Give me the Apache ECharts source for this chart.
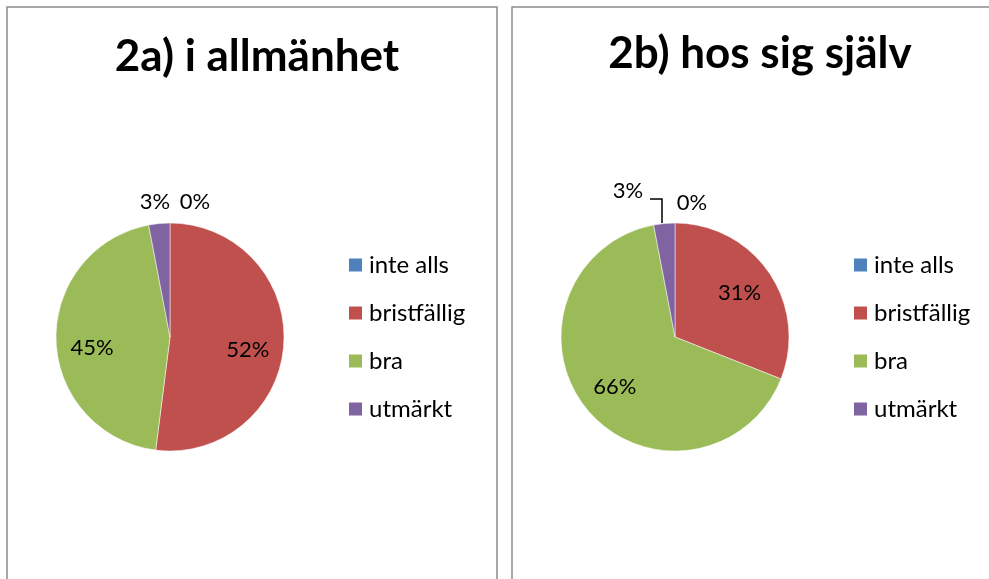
<!DOCTYPE html>
<html lang="sv">
<head>
    <meta charset="UTF-8">
    <title>2a / 2b</title>
    <script src="https://cdn.jsdelivr.net/npm/echarts@6/dist/echarts.min.js"></script>
    <style>
        html, body { margin: 0; padding: 0; background: #fff; }
        #main { width: 989px; height: 579px; }
    </style>
</head>
<body>
<div id="main"></div>
<script>
    // kategorier och värden (procent)
    var categories = ['inte alls', 'bristfällig', 'bra', 'utmärkt'];
    var allmanhet = [0, 52, 45, 3];
    var sigSjalv = [0, 31, 66, 3];
    var titles = ['2a) i allmänhet', '2b) hos sig själv'];
    var colors = ['#4F81BD', '#C0504D', '#9BBB59', '#8064A2'];

    var font = 'Lato';
    var R = 114;
    var centers = [[170, 337], [675, 337]];

    // placering av de små etiketterna ovanför pajen (relativt mitten)
    var smallLabelPos = [
        { 0: [25, -135], 3: [-15, -135] },
        { 0: [17, -134], 3: [-47, -146] }
    ];

    function buildData(values) {
        return categories.map(function (c, i) {
            var small = values[i] < 10;
            return {
                name: c,
                value: values[i],
                label: { position: small ? 'outside' : 'inside' },
                labelLine: { show: small }
            };
        });
    }

    function layoutFor(idx) {
        return function (p) {
            var c = centers[idx];
            var pos = smallLabelPos[idx][p.dataIndex];
            if (pos) {
                var res = { x: c[0] + pos[0], y: c[1] + pos[1], align: 'center', verticalAlign: 'middle' };
                if (idx === 1 && p.dataIndex === 3) {
                    // knäckt linje från lilla sektorn upp till etiketten
                    res.labelLinePoints = [[c[0] - 13, c[1] - R], [c[0] - 13, c[1] - 138], [c[0] - 25, c[1] - 138]];
                } else {
                    res.labelLinePoints = [[c[0], c[1]], [c[0], c[1]], [c[0], c[1]]];
                }
                return res;
            }
            // inre etiketter lite längre ut, som i Excel
            var lx = p.labelRect.x + p.labelRect.width / 2;
            var ly = p.labelRect.y + p.labelRect.height / 2;
            return {
                x: c[0] + (lx - c[0]) * 1.3,
                y: c[1] + (ly - c[1]) * 1.3 + (idx === 0 ? 8 : 0),
                align: 'center',
                verticalAlign: 'middle'
            };
        };
    }

    function pieSeries(idx, values) {
        return {
            type: 'pie',
            name: titles[idx],
            center: centers[idx],
            radius: R,
            startAngle: 90,
            clockwise: true,
            avoidLabelOverlap: false,
            label: {
                formatter: '{d}%',
                fontFamily: font,
                fontSize: 22,
                color: '#000'
            },
            labelLine: {
                length: 8,
                length2: 8,
                lineStyle: { color: '#000', width: 1.5 }
            },
            labelLayout: layoutFor(idx),
            itemStyle: { borderColor: '#fff', borderWidth: 0.5 },
            emphasis: { disabled: true },
            data: buildData(values)
        };
    }

    function legendFor(left) {
        return {
            orient: 'vertical',
            left: left,
            top: 253,
            padding: 0,
            icon: 'rect',
            itemWidth: 15,
            itemHeight: 15,
            itemGap: 24,
            selectedMode: false,
            data: categories,
            textStyle: { fontFamily: font, fontSize: 24, color: '#000', lineHeight: 24, padding: [0, 0, 0, 1] }
        };
    }

    var myChart = echarts.init(document.getElementById('main'));
    var option = {
        animation: false,
        color: colors,
        title: [
            { text: titles[0], left: 252, top: 30, textAlign: 'center',
              textStyle: { fontFamily: font, fontWeight: 'bold', fontSize: 44, color: '#000' } },
            { text: titles[1], left: 755, top: 27, textAlign: 'center',
              textStyle: { fontFamily: font, fontWeight: 'bold', fontSize: 44, color: '#000' } }
        ],
        legend: [legendFor(347), legendFor(852)],
        graphic: [
            { type: 'rect', shape: { x: 7, y: 7, width: 490, height: 620 },
              style: { fill: 'none', stroke: '#8c8c8c', lineWidth: 1.5 }, z: -1 },
            { type: 'rect', shape: { x: 512, y: 7, width: 490, height: 620 },
              style: { fill: 'none', stroke: '#8c8c8c', lineWidth: 1.5 }, z: -1 }
        ],
        series: [pieSeries(0, allmanhet), pieSeries(1, sigSjalv)]
    };
    myChart.setOption(option);
</script>
</body>
</html>
